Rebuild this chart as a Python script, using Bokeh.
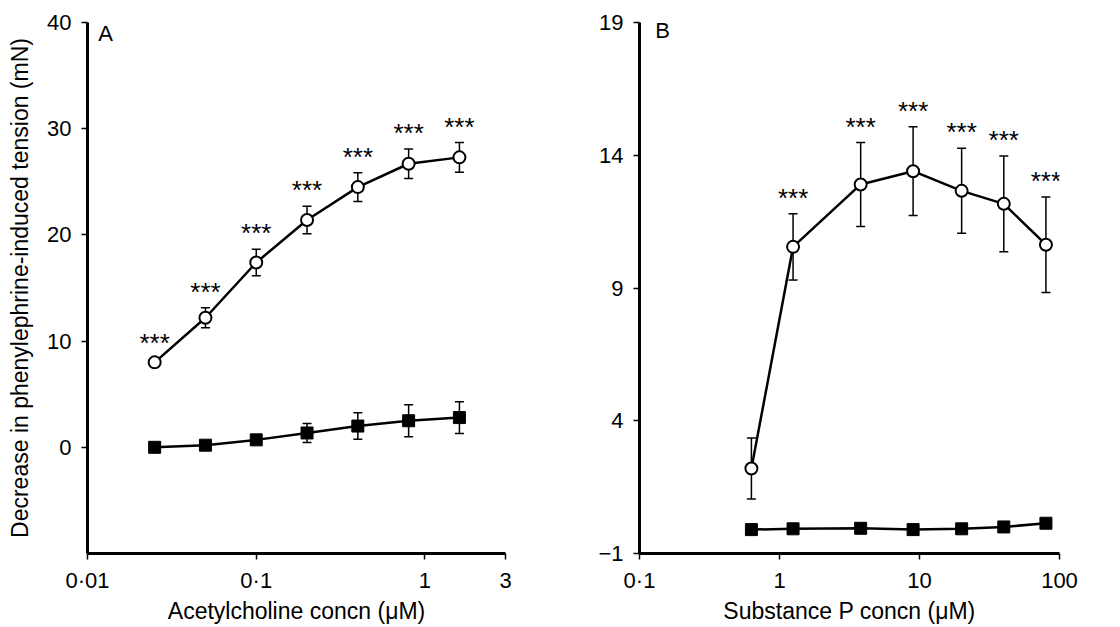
from bokeh.plotting import figure
from bokeh.models import Range1d, FixedTicker, Whisker, ColumnDataSource, TeeHead, Label
from bokeh.layouts import row
from bokeh.embed import file_html
from bokeh.resources import INLINE
from bokeh.core.properties import value

FONT = "Liberation Sans"

# Panel A: acetylcholine
ach_x = [0.025, 0.05, 0.1, 0.2, 0.4, 0.8, 1.6]
ach_open = [8.0, 12.2, 17.4, 21.4, 24.5, 26.7, 27.3]
ach_open_sem = [0.3, 0.95, 1.25, 1.3, 1.35, 1.4, 1.4]
ach_filled = [0.0, 0.2, 0.7, 1.35, 2.0, 2.5, 2.8]
ach_filled_sem = [0.2, 0.2, 0.3, 0.9, 1.25, 1.5, 1.5]
ach_sig = ["***", "***", "***", "***", "***", "***", "***"]
ach_xticks = [0.01, 0.1, 1, 3]
ach_xtick_labels = ["0·01", "0·1", "1", "3"]
ach_yticks = [0, 10, 20, 30, 40]

# Panel B: substance P
sp_x = [0.63, 1.25, 3.8, 9.0, 20, 40, 80]
sp_open = [2.2, 10.55, 12.9, 13.4, 12.66, 12.17, 10.63]
sp_open_sem = [1.15, 1.25, 1.58, 1.67, 1.6, 1.8, 1.8]
sp_filled = [-0.1, -0.07, -0.05, -0.1, -0.07, 0.0, 0.14]
sp_filled_sem = [0.1, 0.1, 0.1, 0.1, 0.1, 0.1, 0.1]
sp_sig = ["", "***", "***", "***", "***", "***", "***"]
sp_xticks = [0.1, 1, 10, 100]
sp_xtick_labels = ["0·1", "1", "10", "100"]
sp_yticks = [-1, 4, 9, 14, 19]
sp_ytick_labels = ["−1", "4", "9", "14", "19"]

H = 626


def make_panel(xs, yo, yo_sem, yf, yf_sem, sig, xr, yr, xticks, xlabels, yticks, ylabels,
               xlabel, ylabel, letter, letter_xy, borders):
    bl, br, bt, bb = borders
    p = figure(width=560, height=H, x_axis_type="log",
               x_range=Range1d(*xr), y_range=Range1d(*yr),
               output_backend="svg", toolbar_location=None,
               min_border_left=bl, min_border_right=br, min_border_top=bt, min_border_bottom=bb)
    p.grid.visible = False
    p.outline_line_color = None
    p.background_fill_color = "white"
    p.border_fill_color = "white"

    for ax in (p.xaxis[0], p.yaxis[0]):
        ax.axis_line_width = 3
        ax.axis_line_color = "black"
        ax.major_tick_line_width = 1.5
        ax.major_tick_out = 6
        ax.major_tick_in = 0
        ax.minor_tick_line_color = None
        ax.major_label_text_font = FONT
        ax.major_label_text_font_size = "22px"
        ax.major_label_text_color = "black"
        ax.axis_label_text_font = FONT
        ax.axis_label_text_font_size = "23px"
        ax.axis_label_text_font_style = "normal"
        ax.axis_label_text_color = "black"

    p.xaxis.ticker = FixedTicker(ticks=xticks)
    p.xaxis.major_label_overrides = {t: l for t, l in zip(xticks, xlabels)}
    p.xaxis.major_label_standoff = 8
    p.xaxis.axis_label = xlabel
    p.xaxis.axis_label_standoff = 2
    p.yaxis.ticker = FixedTicker(ticks=yticks)
    p.yaxis.major_label_overrides = {t: l for t, l in zip(yticks, ylabels)}
    p.yaxis.major_label_standoff = 10
    if ylabel:
        p.yaxis.axis_label = ylabel
        p.yaxis.axis_label_standoff = 11

    src_o = ColumnDataSource(dict(x=xs, y=yo,
                                  lo=[a - b for a, b in zip(yo, yo_sem)],
                                  hi=[a + b for a, b in zip(yo, yo_sem)], sig=sig))
    src_f = ColumnDataSource(dict(x=xs, y=yf,
                                  lo=[a - b for a, b in zip(yf, yf_sem)],
                                  hi=[a + b for a, b in zip(yf, yf_sem)]))

    for src in (src_o, src_f):
        w = Whisker(base="x", upper="hi", lower="lo", source=src, line_width=1.5, line_color="black",
                    upper_head=TeeHead(size=9, line_width=1.5, line_color="black"),
                    lower_head=TeeHead(size=9, line_width=1.5, line_color="black"),
                    level="underlay")
        p.add_layout(w)

    p.line("x", "y", source=src_f, line_width=2.5, line_color="black")
    p.scatter("x", "y", source=src_f, marker="square", size=12, fill_color="black", line_color="black")
    p.line("x", "y", source=src_o, line_width=2.5, line_color="black")
    p.scatter("x", "y", source=src_o, marker="circle", size=12, fill_color="white",
              line_color="black", line_width=2)

    p.text("x", "hi", text="sig", source=src_o, text_font=value(FONT), text_font_size="26px",
           text_align="center", text_baseline="middle", y_offset=-16, text_color="black")

    p.add_layout(Label(x=letter_xy[0], y=letter_xy[1], text=letter, text_font=FONT,
                       text_font_size="22px", text_align="center", text_baseline="middle",
                       text_color="black"))
    return p


pA = make_panel(ach_x, ach_open, ach_open_sem, ach_filled, ach_filled_sem, ach_sig,
                (0.01, 3), (-10, 40), ach_xticks, ach_xtick_labels, ach_yticks,
                [str(t) for t in ach_yticks],
                "Acetylcholine concn (μM)", "Decrease in phenylephrine-induced tension (mN)",
                "A", (0.0128, 39.0), (87, 55, 22, H - 557))
pB = make_panel(sp_x, sp_open, sp_open_sem, sp_filled, sp_filled_sem, sp_sig,
                (0.1, 100), (-1, 19), sp_xticks, sp_xtick_labels, sp_yticks, sp_ytick_labels,
                "Substance P concn (μM)", None,
                "B", (0.146, 18.7), (79, 61, 21, H - 554))

layout = row(pA, pB)
open("out.html", "w").write(file_html(layout, INLINE))
